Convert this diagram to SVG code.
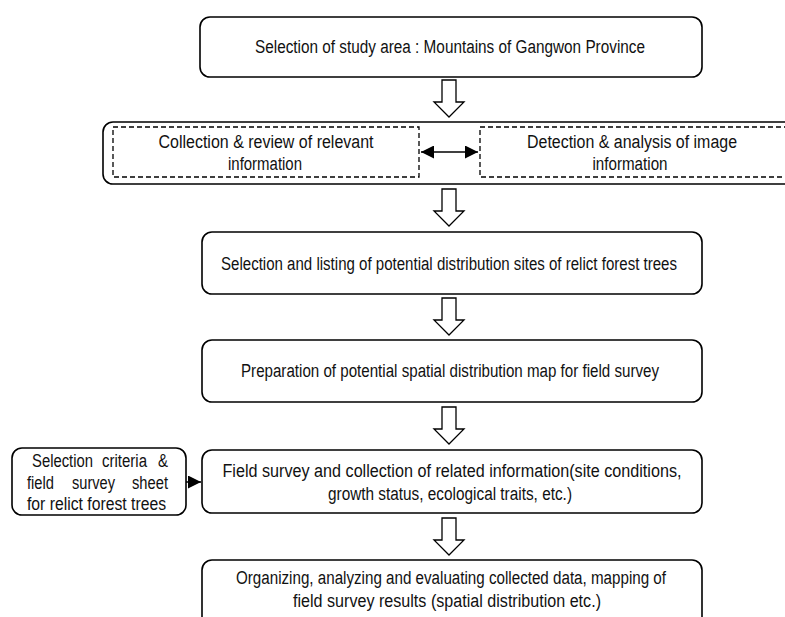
<svg xmlns="http://www.w3.org/2000/svg" xmlns:xlink="http://www.w3.org/1999/xlink" width="785" height="617" viewBox="0 0 785 617">
<defs>
<style>
.box{fill:#fff;stroke:#000;stroke-width:1.6}
.dash{fill:none;stroke:#000;stroke-width:1.3;stroke-dasharray:5 3}
.t{font-family:"Liberation Sans",Arial,sans-serif;font-size:18px;fill:#111}
.c{text-anchor:middle}
.flow{fill:#fff;stroke:#000;stroke-width:1.3}
.conn{stroke:#000;stroke-width:1.5;fill:none}
</style>
<path id="blk" d="M-7,0 H7 V22 H15 L0,37 L-15,22 H-7 Z"/>
<marker id="tri" viewBox="0 0 10 10" refX="10" refY="5" markerWidth="14" markerHeight="13" markerUnits="userSpaceOnUse" orient="auto-start-reverse">
<path d="M0,0 L10,5 L0,10 Z" fill="#000"/>
</marker>
</defs>
<rect width="785" height="617" fill="#fff"/>

<g id="n1">
<rect class="box" x="200" y="17" width="502" height="60" rx="10"/>
<text class="t c" x="450" y="53" textLength="390" lengthAdjust="spacingAndGlyphs">Selection of study area : Mountains of  Gangwon Province</text>
</g>

<g id="n2">
<rect class="box" x="103" y="122" width="720" height="62" rx="10"/>
<g id="n2a">
<rect class="dash" x="113" y="127" width="306" height="50"/>
<text class="t c" x="266" y="148" textLength="215" lengthAdjust="spacingAndGlyphs">Collection &amp; review of relevant</text>
<text class="t c" x="265" y="170" textLength="74" lengthAdjust="spacingAndGlyphs">information</text>
</g>
<g id="n2b">
<rect class="dash" x="480" y="127" width="330" height="50"/>
<text class="t c" x="632" y="148" textLength="210" lengthAdjust="spacingAndGlyphs">Detection &amp; analysis of image</text>
<text class="t c" x="630" y="170" textLength="75" lengthAdjust="spacingAndGlyphs">information</text>
</g>
</g>

<g id="n3">
<rect class="box" x="202" y="232" width="500" height="62" rx="10"/>
<text class="t c" x="449" y="270" textLength="456" lengthAdjust="spacingAndGlyphs">Selection and listing of potential distribution sites of relict forest trees</text>
</g>

<g id="n4">
<rect class="box" x="202" y="340" width="500" height="62" rx="10"/>
<text class="t c" x="450" y="377" textLength="418" lengthAdjust="spacingAndGlyphs">Preparation of potential spatial distribution map for field survey</text>
</g>

<g id="n5">
<rect class="box" x="202" y="450" width="500" height="63" rx="10"/>
<text class="t c" x="452" y="477" textLength="459" lengthAdjust="spacingAndGlyphs">Field survey and collection of related information(site conditions,</text>
<text class="t c" x="450" y="500" textLength="244" lengthAdjust="spacingAndGlyphs">growth status, ecological traits, etc.)</text>
</g>

<g id="side">
<rect class="box" x="12" y="448" width="174" height="67" rx="10"/>
<text class="t" x="32" y="467" textLength="61" lengthAdjust="spacingAndGlyphs">Selection</text>
<text class="t" x="102" y="467" textLength="45" lengthAdjust="spacingAndGlyphs">criteria</text>
<text class="t" x="158" y="467" textLength="10" lengthAdjust="spacingAndGlyphs">&amp;</text>
<text class="t" x="27" y="489" textLength="27" lengthAdjust="spacingAndGlyphs">field</text>
<text class="t" x="72" y="489" textLength="43" lengthAdjust="spacingAndGlyphs">survey</text>
<text class="t" x="132" y="489" textLength="36" lengthAdjust="spacingAndGlyphs">sheet</text>
<text class="t" x="27" y="510" textLength="139" lengthAdjust="spacingAndGlyphs">for relict forest trees</text>
</g>

<g id="n6">
<rect class="box" x="202" y="560" width="500" height="80" rx="10"/>
<text class="t c" x="451" y="584" textLength="430" lengthAdjust="spacingAndGlyphs">Organizing, analyzing and evaluating collected data, mapping of</text>
<text class="t c" x="447" y="607" textLength="308" lengthAdjust="spacingAndGlyphs">field survey results (spatial distribution etc.)</text>
</g>

<g id="connectors">
<use xlink:href="#blk" href="#blk" class="flow" transform="translate(449,80)"/>
<use xlink:href="#blk" href="#blk" class="flow" transform="translate(449,189)"/>
<use xlink:href="#blk" href="#blk" class="flow" transform="translate(449,298)"/>
<use xlink:href="#blk" href="#blk" class="flow" transform="translate(449,407)"/>
<use xlink:href="#blk" href="#blk" class="flow" transform="translate(449,518)"/>
<line class="conn" x1="421" y1="152" x2="478" y2="152" marker-start="url(#tri)" marker-end="url(#tri)"/>
<line class="conn" x1="186" y1="482" x2="201" y2="482" marker-end="url(#tri)"/>
</g>
</svg>
